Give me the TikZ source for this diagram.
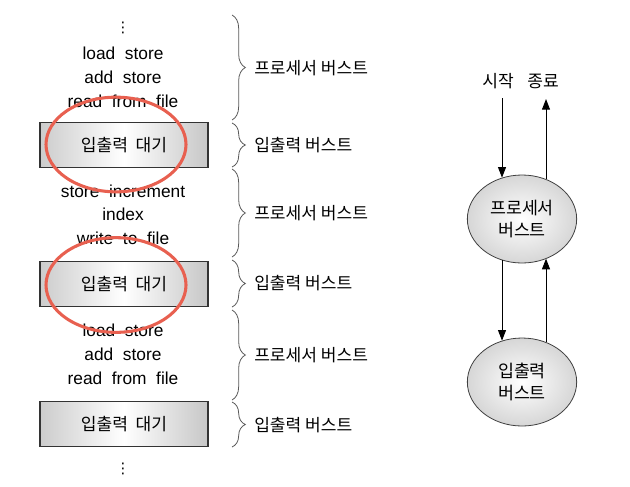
\documentclass[tikz,border=0pt]{standalone}
\usepackage{fontspec}
\setmainfont{Liberation Sans}
\newfontfamily\kr{Noto Sans CJK KR}
\newfontfamily\dvs{DejaVu Sans}
\usetikzlibrary{arrows.meta,decorations.pathreplacing,shapes.geometric}
\definecolor{ringred}{RGB}{232,96,80}
\begin{document}
\begin{tikzpicture}[x=0.75pt,y=-0.75pt,
  txt/.style={font=\fontsize{13}{15}\selectfont, inner sep=0pt},
  krtxt/.style={font=\kr\fontsize{12.8}{15}\selectfont, inner sep=0pt},
  dotstxt/.style={font=\dvs\fontsize{11}{13}\selectfont, inner sep=0pt},
  waitbox/.style={draw=black!80, line width=0.8pt, minimum width=126pt, minimum height=34pt,
    left color=black!20, right color=black!22, middle color=white, font=\kr\fontsize{12.8}{15}\selectfont},
  redring/.style={ellipse, draw=ringred, line width=2.3pt, minimum width=105pt, minimum height=71pt},
  burstbrace/.style={decorate, decoration={brace, amplitude=10pt}, draw=black!65, line width=0.6pt},
  burst/.style={ellipse, draw=black!75, line width=0.6pt, shading=radial, inner color=white, outer color=black!16,
    minimum width=82pt, minimum height=66pt, font=\kr\fontsize{13}{17}\selectfont, align=center},
  arr/.style={-{Triangle[length=8pt,width=6pt]}, line width=0.7pt}]
\useasboundingbox (0,0) rectangle (630,486);

% left column
\node[dotstxt] (d1) at (123,28) {⋮};
\node[txt] (a1) at (123,53) {load\ \ store};
\node[txt] (a2) at (123,77) {add\ \ store};
\node[txt] (a3) at (123,101) {read\ \ from\ \ file};
\node[waitbox] (w1) at (124,145) {입출력\ \ 대기};
\node[txt] (b1) at (123,191) {store\ \ increment};
\node[txt] (b2) at (123,214) {index};
\node[txt] (b3) at (123,238) {write\ \ to\ \ file};
\node[waitbox] (w2) at (124,284) {입출력\ \ 대기};
\node[txt] (c1) at (123,330) {load\ \ store};
\node[txt] (c2) at (123,354) {add\ \ store};
\node[txt] (c3) at (123,378) {read\ \ from\ \ file};
\node[waitbox] (w3) at (124,424) {입출력\ \ 대기};
\node[dotstxt] (d2) at (123,469) {⋮};

\node[redring] (r1) at (116,144.5) {};
\node[redring] (r2) at (116,285) {};

% braces
\coordinate (t1) at (232,15);  \coordinate (u1) at (232,120);
\coordinate (t2) at (232,123); \coordinate (u2) at (232,167);
\coordinate (t3) at (232,169); \coordinate (u3) at (232,257);
\coordinate (t4) at (232,260); \coordinate (u4) at (232,307);
\coordinate (t5) at (232,310); \coordinate (u5) at (232,400);
\coordinate (t6) at (232,402); \coordinate (u6) at (232,447);
\foreach \i in {1,...,6} \draw[burstbrace] (t\i) -- (u\i);
\node[krtxt, anchor=west] (l1) at (254,68) {프로세서\ 버스트};
\node[krtxt, anchor=west] (l2) at (254,145) {입출력\ 버스트};
\node[krtxt, anchor=west] (l3) at (254,213) {프로세서\ 버스트};
\node[krtxt, anchor=west] (l4) at (254,283) {입출력\ 버스트};
\node[krtxt, anchor=west] (l5) at (254,355) {프로세서\ 버스트};
\node[krtxt, anchor=west] (l6) at (254,425) {입출력\ 버스트};

% right diagram
\node[krtxt] (start) at (498,81) {시작};
\node[krtxt] (stop) at (543,81) {종료};
\node[burst] (p) at (522,219) {프로세서\\버스트};
\node[burst] (io) at (522,382) {입출력\\버스트};
\coordinate (s) at (502,98);
\coordinate (e) at (546,99);
\draw[arr] (s) -- (p.116 -| s);
\draw[arr] (p.58.7 -| e) -- (e);
\draw[arr] (p.-116 -| s) -- (io.116 -| s);
\draw[arr] (io.58.7 -| e) -- (p.-58.7 -| e);
\end{tikzpicture}
\end{document}
